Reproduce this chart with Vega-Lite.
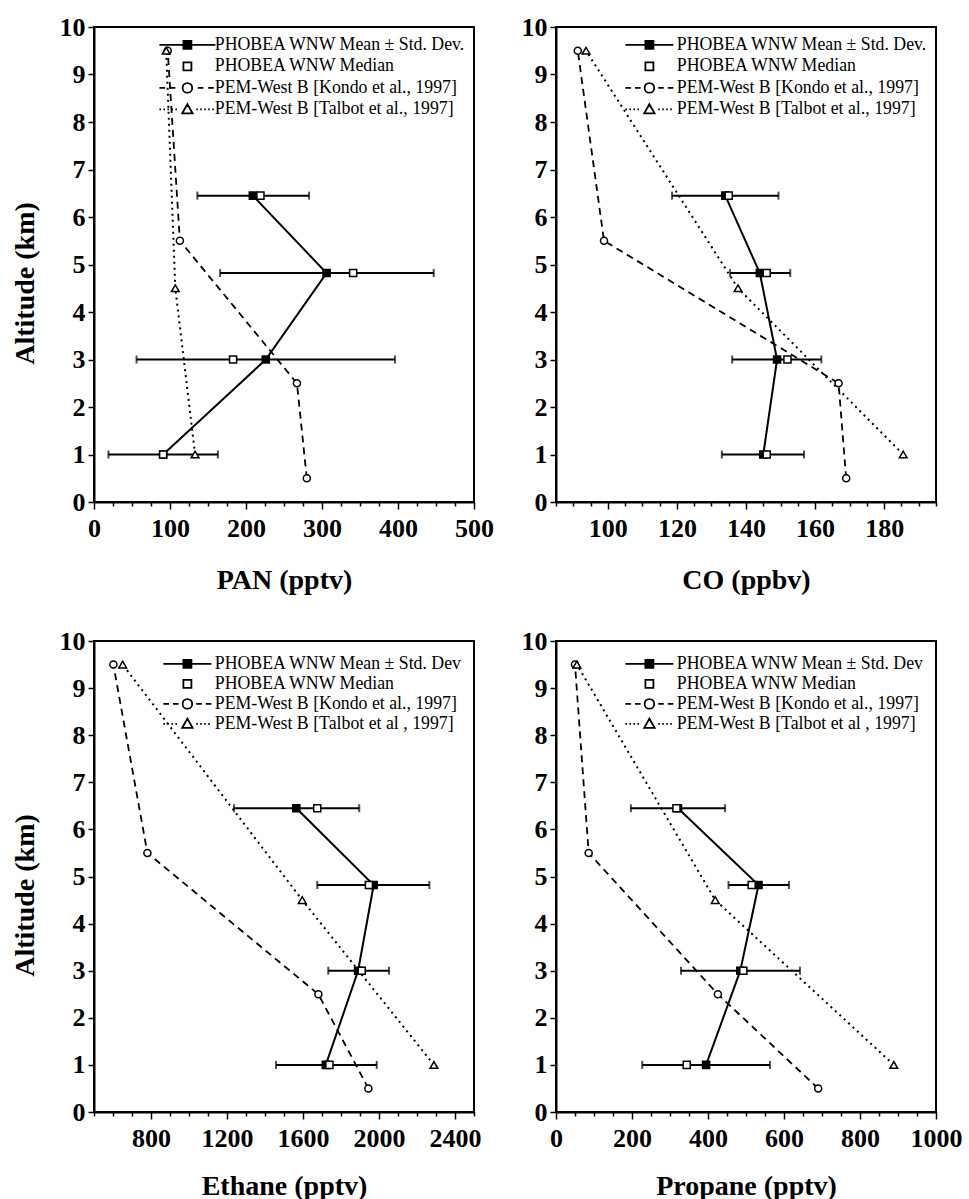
{
  "$schema": "https://vega.github.io/schema/vega-lite/v6.json",
  "background": "white",
  "padding": {"left": 10, "top": 13, "right": 5, "bottom": 5},
  "autosize": {"type": "pad"},
  "bounds": "flush",
  "columns": 2,
  "spacing": {"row": 139, "column": 82},
  "data": {
    "values": [
      {"gas": "PAN", "series": "mean", "alt": 6.45, "value": 209, "lo": 136, "hi": 283},
      {"gas": "PAN", "series": "mean", "alt": 4.82, "value": 306, "lo": 166, "hi": 447},
      {"gas": "PAN", "series": "mean", "alt": 3.0, "value": 226, "lo": 56, "hi": 396},
      {"gas": "PAN", "series": "mean", "alt": 1.0, "value": 91, "lo": 19, "hi": 163},
      {"gas": "PAN", "series": "median", "alt": 6.45, "value": 219},
      {"gas": "PAN", "series": "median", "alt": 4.82, "value": 341},
      {"gas": "PAN", "series": "median", "alt": 3.0, "value": 183},
      {"gas": "PAN", "series": "median", "alt": 1.0, "value": 91},
      {"gas": "PAN", "series": "kondo", "alt": 9.5, "value": 97},
      {"gas": "PAN", "series": "kondo", "alt": 5.5, "value": 113},
      {"gas": "PAN", "series": "kondo", "alt": 2.5, "value": 267},
      {"gas": "PAN", "series": "kondo", "alt": 0.5, "value": 280},
      {"gas": "PAN", "series": "talbot", "alt": 9.5, "value": 95},
      {"gas": "PAN", "series": "talbot", "alt": 4.5, "value": 107},
      {"gas": "PAN", "series": "talbot", "alt": 1.0, "value": 133},

      {"gas": "CO", "series": "mean", "alt": 6.45, "value": 134, "lo": 118.6, "hi": 149.4},
      {"gas": "CO", "series": "mean", "alt": 4.82, "value": 144, "lo": 135.4, "hi": 152.8},
      {"gas": "CO", "series": "mean", "alt": 3.0, "value": 149, "lo": 136, "hi": 161.8},
      {"gas": "CO", "series": "mean", "alt": 1.0, "value": 145, "lo": 133, "hi": 156.8},
      {"gas": "CO", "series": "median", "alt": 6.45, "value": 135},
      {"gas": "CO", "series": "median", "alt": 4.82, "value": 146},
      {"gas": "CO", "series": "median", "alt": 3.0, "value": 152},
      {"gas": "CO", "series": "median", "alt": 1.0, "value": 146},
      {"gas": "CO", "series": "kondo", "alt": 9.5, "value": 91.3},
      {"gas": "CO", "series": "kondo", "alt": 5.5, "value": 98.9},
      {"gas": "CO", "series": "kondo", "alt": 2.5, "value": 166.8},
      {"gas": "CO", "series": "kondo", "alt": 0.5, "value": 169},
      {"gas": "CO", "series": "talbot", "alt": 9.5, "value": 93.7},
      {"gas": "CO", "series": "talbot", "alt": 4.5, "value": 137.7},
      {"gas": "CO", "series": "talbot", "alt": 1.0, "value": 185.5},

      {"gas": "Ethane", "series": "mean", "alt": 6.45, "value": 1565, "lo": 1237, "hi": 1896},
      {"gas": "Ethane", "series": "mean", "alt": 4.82, "value": 1972, "lo": 1675, "hi": 2265},
      {"gas": "Ethane", "series": "mean", "alt": 3.0, "value": 1890, "lo": 1733, "hi": 2053},
      {"gas": "Ethane", "series": "mean", "alt": 1.0, "value": 1720, "lo": 1458, "hi": 1988},
      {"gas": "Ethane", "series": "median", "alt": 6.45, "value": 1675},
      {"gas": "Ethane", "series": "median", "alt": 4.82, "value": 1947},
      {"gas": "Ethane", "series": "median", "alt": 3.0, "value": 1909},
      {"gas": "Ethane", "series": "median", "alt": 1.0, "value": 1739},
      {"gas": "Ethane", "series": "kondo", "alt": 9.5, "value": 602},
      {"gas": "Ethane", "series": "kondo", "alt": 5.5, "value": 781},
      {"gas": "Ethane", "series": "kondo", "alt": 2.5, "value": 1681},
      {"gas": "Ethane", "series": "kondo", "alt": 0.5, "value": 1944},
      {"gas": "Ethane", "series": "talbot", "alt": 9.5, "value": 651},
      {"gas": "Ethane", "series": "talbot", "alt": 4.5, "value": 1596},
      {"gas": "Ethane", "series": "talbot", "alt": 1.0, "value": 2289},

      {"gas": "Propane", "series": "mean", "alt": 6.45, "value": 321, "lo": 197, "hi": 445},
      {"gas": "Propane", "series": "mean", "alt": 4.82, "value": 533, "lo": 454, "hi": 613},
      {"gas": "Propane", "series": "mean", "alt": 3.0, "value": 485, "lo": 329, "hi": 642},
      {"gas": "Propane", "series": "mean", "alt": 1.0, "value": 395, "lo": 227, "hi": 563},
      {"gas": "Propane", "series": "median", "alt": 6.45, "value": 317},
      {"gas": "Propane", "series": "median", "alt": 4.82, "value": 515},
      {"gas": "Propane", "series": "median", "alt": 3.0, "value": 493},
      {"gas": "Propane", "series": "median", "alt": 1.0, "value": 344},
      {"gas": "Propane", "series": "kondo", "alt": 9.5, "value": 50},
      {"gas": "Propane", "series": "kondo", "alt": 5.5, "value": 86},
      {"gas": "Propane", "series": "kondo", "alt": 2.5, "value": 426},
      {"gas": "Propane", "series": "kondo", "alt": 0.5, "value": 690},
      {"gas": "Propane", "series": "talbot", "alt": 9.5, "value": 55},
      {"gas": "Propane", "series": "talbot", "alt": 4.5, "value": 419},
      {"gas": "Propane", "series": "talbot", "alt": 1.0, "value": 889}
    ]
  },
  "concat": [
    {
      "width": 380, "height": 475,
      "transform": [{"filter": "datum.gas === 'PAN'"}],
      "resolve": {"axis": {"x": "independent"}},
      "layer": [
        {"transform": [{"filter": "datum.series === 'mean'"}],
         "mark": {"type": "rule", "color": "black", "strokeWidth": 2},
         "encoding": {
           "x": {"field": "lo", "type": "quantitative", "scale": {"domain": [0, 500], "nice": false, "zero": false},
                 "axis": {"title": "PAN (pptv)", "titleY": 64, "orient": "bottom", "format": "d", "tickSize": 7,
                          "values": [0,100,200,300,400,500]}},
           "x2": {"field": "hi"},
           "y": {"field": "alt", "type": "quantitative", "scale": {"domain": [0, 10], "nice": false, "zero": false},
                 "axis": {"title": "Altitude (km)", "titleX": -55, "titleY": 256,
                          "values": [0,0.5,1,1.5,2,2.5,3,3.5,4,4.5,5,5.5,6,6.5,7,7.5,8,8.5,9,9.5,10],
                          "labelExpr": "abs(datum.value % 1) < 0.01 ? format(datum.value, 'd') : ''",
                          "tickSize": {"condition": {"test": "abs(datum.value % 1) < 0.01", "value": 6}, "value": 3}}}
         }},
        {"transform": [{"filter": "datum.series === 'mean'"}],
         "mark": {"type": "tick", "orient": "vertical", "color": "black", "size": 8, "thickness": 2},
         "encoding": {"x": {"field": "lo", "type": "quantitative", "axis": null}, "y": {"field": "alt", "type": "quantitative"}}},
        {"transform": [{"filter": "datum.series === 'mean'"}],
         "mark": {"type": "tick", "orient": "vertical", "color": "black", "size": 8, "thickness": 2},
         "encoding": {"x": {"field": "hi", "type": "quantitative", "axis": null}, "y": {"field": "alt", "type": "quantitative"}}},
        {"transform": [{"filter": "datum.series === 'mean'"}],
         "mark": {"type": "line", "color": "black", "strokeWidth": 2},
         "encoding": {"x": {"field": "value", "type": "quantitative", "axis": null}, "y": {"field": "alt", "type": "quantitative"}, "order": {"field": "alt", "type": "quantitative"}}},
        {"transform": [{"filter": "datum.series === 'kondo'"}],
         "mark": {"type": "line", "color": "black", "strokeWidth": 1.8, "strokeDash": [7, 5]},
         "encoding": {"x": {"field": "value", "type": "quantitative", "axis": null}, "y": {"field": "alt", "type": "quantitative"}, "order": {"field": "alt", "type": "quantitative"}}},
        {"transform": [{"filter": "datum.series === 'talbot'"}],
         "mark": {"type": "line", "color": "black", "strokeWidth": 2, "strokeDash": [2, 4]},
         "encoding": {"x": {"field": "value", "type": "quantitative", "axis": null}, "y": {"field": "alt", "type": "quantitative"}, "order": {"field": "alt", "type": "quantitative"}}},
        {"transform": [{"filter": "datum.series === 'mean'"}],
         "mark": {"type": "point", "shape": "square", "size": 50, "filled": true, "fill": "black", "stroke": "black", "strokeWidth": 1.5, "opacity": 1},
         "encoding": {"x": {"field": "value", "type": "quantitative", "axis": null}, "y": {"field": "alt", "type": "quantitative"}}},
        {"transform": [{"filter": "datum.series === 'median'"}],
         "mark": {"type": "point", "shape": "square", "size": 50, "filled": true, "fill": "white", "stroke": "black", "strokeWidth": 1.5, "opacity": 1},
         "encoding": {"x": {"field": "value", "type": "quantitative", "axis": null}, "y": {"field": "alt", "type": "quantitative"}}},
        {"transform": [{"filter": "datum.series === 'kondo'"}],
         "mark": {"type": "point", "shape": "circle", "size": 50, "filled": true, "fill": "white", "stroke": "black", "strokeWidth": 1.5, "opacity": 1},
         "encoding": {"x": {"field": "value", "type": "quantitative", "axis": null}, "y": {"field": "alt", "type": "quantitative"}}},
        {"transform": [{"filter": "datum.series === 'talbot'"}],
         "mark": {"type": "point", "shape": "triangle-up", "size": 60, "filled": true, "fill": "white", "stroke": "black", "strokeWidth": 1.5, "opacity": 1},
         "encoding": {"x": {"field": "value", "type": "quantitative", "axis": null}, "y": {"field": "alt", "type": "quantitative"}}},
        {"transform": [{"filter": "false"}],
         "mark": {"type": "point", "filled": true, "strokeWidth": 1.8, "opacity": 1},
         "encoding": {
           "x": {"field": "value", "type": "quantitative",
                 "axis": {"orient": "bottom", "title": null, "labels": false, "domain": false, "tickSize": 4,
                          "values": [25,50,75,125,150,175,225,250,275,325,350,375,425,450,475]}},
           "shape": {"field": "series", "type": "nominal",
                     "scale": {"domain": ["PHOBEA WNW Mean ± Std. Dev.", "PHOBEA WNW Median", "PEM-West B [Kondo et al., 1997]", "PEM-West B [Talbot et al., 1997]"],
                               "range": ["M-7,0H-1M1,0H7M-1,-1H1V1H-1Z", "M-1,-1H1V1H-1Z", "M-7,0H-5.6M-4.4,0H-3M-1.2,0A1.2,1.2 0 1,0 1.2,0A1.2,1.2 0 1,0 -1.2,0ZM2.6,0H4M5.2,0H6.6", "M-7,0H-6.6M-6,0H-5.6M-5,0H-4.6M-4,0H-3.6M-3,0H-2.6M0,-1.3L1.3,1L-1.3,1ZM2.2,0H2.6M3.2,0H3.6M4.2,0H4.6M5.2,0H5.6M6.2,0H6.6"]},
                     "legend": {"title": null, "orient": "none", "legendX": 84.5, "legendY": 9, "padding": 0, "symbolSize": 64, "symbolStrokeWidth": 1.8, "symbolStrokeColor": "black", "labelFont": "Liberation Serif", "labelFontSize": 17.8, "labelColor": "black", "labelLimit": 500, "labelOffset": 18.5, "rowPadding": 2.5}},
           "fill": {"field": "series", "type": "nominal",
                    "scale": {"domain": ["PHOBEA WNW Mean ± Std. Dev.", "PHOBEA WNW Median", "PEM-West B [Kondo et al., 1997]", "PEM-West B [Talbot et al., 1997]"],
                              "range": ["black", "white", "white", "white"]},
                    "legend": {"title": null, "orient": "none", "legendX": 84.5, "legendY": 9, "padding": 0, "symbolSize": 64, "symbolStrokeWidth": 1.8, "symbolStrokeColor": "black", "labelFont": "Liberation Serif", "labelFontSize": 17.8, "labelColor": "black", "labelLimit": 500, "labelOffset": 18.5, "rowPadding": 2.5}},
           "stroke": {"field": "series", "type": "nominal",
                    "scale": {"domain": ["PHOBEA WNW Mean ± Std. Dev.", "PHOBEA WNW Median", "PEM-West B [Kondo et al., 1997]", "PEM-West B [Talbot et al., 1997]"],
                              "range": ["black", "black", "black", "black"]},
                    "legend": {"title": null, "orient": "none", "legendX": 84.5, "legendY": 9, "padding": 0, "symbolSize": 64, "symbolStrokeWidth": 1.8, "symbolStrokeColor": "black", "labelFont": "Liberation Serif", "labelFontSize": 17.8, "labelColor": "black", "labelLimit": 500, "labelOffset": 18.5, "rowPadding": 2.5}}
         }}
      ]
    },
    {
      "width": 380, "height": 475,
      "transform": [{"filter": "datum.gas === 'CO'"}],
      "resolve": {"axis": {"x": "independent"}},
      "layer": [
        {"transform": [{"filter": "datum.series === 'mean'"}],
         "mark": {"type": "rule", "color": "black", "strokeWidth": 2},
         "encoding": {
           "x": {"field": "lo", "type": "quantitative", "scale": {"domain": [85, 195], "nice": false, "zero": false},
                 "axis": {"title": "CO (ppbv)", "titleY": 64, "orient": "bottom", "format": "d", "tickSize": 7,
                          "values": [100,120,140,160,180]}},
           "x2": {"field": "hi"},
           "y": {"field": "alt", "type": "quantitative", "scale": {"domain": [0, 10], "nice": false, "zero": false},
                 "axis": {"title": null,
                          "values": [0,0.5,1,1.5,2,2.5,3,3.5,4,4.5,5,5.5,6,6.5,7,7.5,8,8.5,9,9.5,10],
                          "labelExpr": "abs(datum.value % 1) < 0.01 ? format(datum.value, 'd') : ''",
                          "tickSize": {"condition": {"test": "abs(datum.value % 1) < 0.01", "value": 6}, "value": 3}}}
         }},
        {"transform": [{"filter": "datum.series === 'mean'"}],
         "mark": {"type": "tick", "orient": "vertical", "color": "black", "size": 8, "thickness": 2},
         "encoding": {"x": {"field": "lo", "type": "quantitative", "axis": null}, "y": {"field": "alt", "type": "quantitative"}}},
        {"transform": [{"filter": "datum.series === 'mean'"}],
         "mark": {"type": "tick", "orient": "vertical", "color": "black", "size": 8, "thickness": 2},
         "encoding": {"x": {"field": "hi", "type": "quantitative", "axis": null}, "y": {"field": "alt", "type": "quantitative"}}},
        {"transform": [{"filter": "datum.series === 'mean'"}],
         "mark": {"type": "line", "color": "black", "strokeWidth": 2},
         "encoding": {"x": {"field": "value", "type": "quantitative", "axis": null}, "y": {"field": "alt", "type": "quantitative"}, "order": {"field": "alt", "type": "quantitative"}}},
        {"transform": [{"filter": "datum.series === 'kondo'"}],
         "mark": {"type": "line", "color": "black", "strokeWidth": 1.8, "strokeDash": [7, 5]},
         "encoding": {"x": {"field": "value", "type": "quantitative", "axis": null}, "y": {"field": "alt", "type": "quantitative"}, "order": {"field": "alt", "type": "quantitative"}}},
        {"transform": [{"filter": "datum.series === 'talbot'"}],
         "mark": {"type": "line", "color": "black", "strokeWidth": 2, "strokeDash": [2, 4]},
         "encoding": {"x": {"field": "value", "type": "quantitative", "axis": null}, "y": {"field": "alt", "type": "quantitative"}, "order": {"field": "alt", "type": "quantitative"}}},
        {"transform": [{"filter": "datum.series === 'mean'"}],
         "mark": {"type": "point", "shape": "square", "size": 50, "filled": true, "fill": "black", "stroke": "black", "strokeWidth": 1.5, "opacity": 1},
         "encoding": {"x": {"field": "value", "type": "quantitative", "axis": null}, "y": {"field": "alt", "type": "quantitative"}}},
        {"transform": [{"filter": "datum.series === 'median'"}],
         "mark": {"type": "point", "shape": "square", "size": 50, "filled": true, "fill": "white", "stroke": "black", "strokeWidth": 1.5, "opacity": 1},
         "encoding": {"x": {"field": "value", "type": "quantitative", "axis": null}, "y": {"field": "alt", "type": "quantitative"}}},
        {"transform": [{"filter": "datum.series === 'kondo'"}],
         "mark": {"type": "point", "shape": "circle", "size": 50, "filled": true, "fill": "white", "stroke": "black", "strokeWidth": 1.5, "opacity": 1},
         "encoding": {"x": {"field": "value", "type": "quantitative", "axis": null}, "y": {"field": "alt", "type": "quantitative"}}},
        {"transform": [{"filter": "datum.series === 'talbot'"}],
         "mark": {"type": "point", "shape": "triangle-up", "size": 60, "filled": true, "fill": "white", "stroke": "black", "strokeWidth": 1.5, "opacity": 1},
         "encoding": {"x": {"field": "value", "type": "quantitative", "axis": null}, "y": {"field": "alt", "type": "quantitative"}}},
        {"transform": [{"filter": "false"}],
         "mark": {"type": "point", "filled": true, "strokeWidth": 1.8, "opacity": 1},
         "encoding": {
           "x": {"field": "value", "type": "quantitative",
                 "axis": {"orient": "bottom", "title": null, "labels": false, "domain": false, "tickSize": 4,
                          "values": [85,90,95,105,110,115,125,130,135,145,150,155,165,170,175,185,190,195]}},
           "shape": {"field": "series", "type": "nominal",
                     "scale": {"domain": ["PHOBEA WNW Mean ± Std. Dev.", "PHOBEA WNW Median", "PEM-West B [Kondo et al., 1997]", "PEM-West B [Talbot et al., 1997]"],
                               "range": ["M-6,0H-1M1,0H6M-1,-1H1V1H-1Z", "M-1,-1H1V1H-1Z", "M-6,0H-4.6M-3.6,0H-2.2M-1.2,0A1.2,1.2 0 1,0 1.2,0A1.2,1.2 0 1,0 -1.2,0ZM2.2,0H3.6M4.6,0H6", "M-6,0H-5.6M-5,0H-4.6M-4,0H-3.6M-3,0H-2.6M0,-1.3L1.3,1L-1.3,1ZM2.2,0H2.6M3.2,0H3.6M4.2,0H4.6M5.2,0H5.6"]},
                     "legend": {"title": null, "orient": "none", "legendX": 84.5, "legendY": 9, "padding": 0, "symbolSize": 64, "symbolStrokeWidth": 1.8, "symbolStrokeColor": "black", "labelFont": "Liberation Serif", "labelFontSize": 17.8, "labelColor": "black", "labelLimit": 500, "labelOffset": 18.5, "rowPadding": 2.5}},
           "fill": {"field": "series", "type": "nominal",
                    "scale": {"domain": ["PHOBEA WNW Mean ± Std. Dev.", "PHOBEA WNW Median", "PEM-West B [Kondo et al., 1997]", "PEM-West B [Talbot et al., 1997]"],
                              "range": ["black", "white", "white", "white"]},
                    "legend": {"title": null, "orient": "none", "legendX": 84.5, "legendY": 9, "padding": 0, "symbolSize": 64, "symbolStrokeWidth": 1.8, "symbolStrokeColor": "black", "labelFont": "Liberation Serif", "labelFontSize": 17.8, "labelColor": "black", "labelLimit": 500, "labelOffset": 18.5, "rowPadding": 2.5}},
           "stroke": {"field": "series", "type": "nominal",
                    "scale": {"domain": ["PHOBEA WNW Mean ± Std. Dev.", "PHOBEA WNW Median", "PEM-West B [Kondo et al., 1997]", "PEM-West B [Talbot et al., 1997]"],
                              "range": ["black", "black", "black", "black"]},
                    "legend": {"title": null, "orient": "none", "legendX": 84.5, "legendY": 9, "padding": 0, "symbolSize": 64, "symbolStrokeWidth": 1.8, "symbolStrokeColor": "black", "labelFont": "Liberation Serif", "labelFontSize": 17.8, "labelColor": "black", "labelLimit": 500, "labelOffset": 18.5, "rowPadding": 2.5}}
         }}
      ]
    },
    {
      "width": 380, "height": 471,
      "transform": [{"filter": "datum.gas === 'Ethane'"}],
      "resolve": {"axis": {"x": "independent"}},
      "layer": [
        {"transform": [{"filter": "datum.series === 'mean'"}],
         "mark": {"type": "rule", "color": "black", "strokeWidth": 2},
         "encoding": {
           "x": {"field": "lo", "type": "quantitative", "scale": {"domain": [500, 2500], "nice": false, "zero": false},
                 "axis": {"title": "Ethane (pptv)", "titleY": 60, "orient": "bottom", "format": "d", "tickSize": 7,
                          "values": [800,1200,1600,2000,2400]}},
           "x2": {"field": "hi"},
           "y": {"field": "alt", "type": "quantitative", "scale": {"domain": [0, 10], "nice": false, "zero": false},
                 "axis": {"title": "Altitude (km)", "titleX": -55, "titleY": 254,
                          "values": [0,0.5,1,1.5,2,2.5,3,3.5,4,4.5,5,5.5,6,6.5,7,7.5,8,8.5,9,9.5,10],
                          "labelExpr": "abs(datum.value % 1) < 0.01 ? format(datum.value, 'd') : ''",
                          "tickSize": {"condition": {"test": "abs(datum.value % 1) < 0.01", "value": 6}, "value": 3}}}
         }},
        {"transform": [{"filter": "datum.series === 'mean'"}],
         "mark": {"type": "tick", "orient": "vertical", "color": "black", "size": 8, "thickness": 2},
         "encoding": {"x": {"field": "lo", "type": "quantitative", "axis": null}, "y": {"field": "alt", "type": "quantitative"}}},
        {"transform": [{"filter": "datum.series === 'mean'"}],
         "mark": {"type": "tick", "orient": "vertical", "color": "black", "size": 8, "thickness": 2},
         "encoding": {"x": {"field": "hi", "type": "quantitative", "axis": null}, "y": {"field": "alt", "type": "quantitative"}}},
        {"transform": [{"filter": "datum.series === 'mean'"}],
         "mark": {"type": "line", "color": "black", "strokeWidth": 2},
         "encoding": {"x": {"field": "value", "type": "quantitative", "axis": null}, "y": {"field": "alt", "type": "quantitative"}, "order": {"field": "alt", "type": "quantitative"}}},
        {"transform": [{"filter": "datum.series === 'kondo'"}],
         "mark": {"type": "line", "color": "black", "strokeWidth": 1.8, "strokeDash": [7, 5]},
         "encoding": {"x": {"field": "value", "type": "quantitative", "axis": null}, "y": {"field": "alt", "type": "quantitative"}, "order": {"field": "alt", "type": "quantitative"}}},
        {"transform": [{"filter": "datum.series === 'talbot'"}],
         "mark": {"type": "line", "color": "black", "strokeWidth": 2, "strokeDash": [2, 4]},
         "encoding": {"x": {"field": "value", "type": "quantitative", "axis": null}, "y": {"field": "alt", "type": "quantitative"}, "order": {"field": "alt", "type": "quantitative"}}},
        {"transform": [{"filter": "datum.series === 'mean'"}],
         "mark": {"type": "point", "shape": "square", "size": 50, "filled": true, "fill": "black", "stroke": "black", "strokeWidth": 1.5, "opacity": 1},
         "encoding": {"x": {"field": "value", "type": "quantitative", "axis": null}, "y": {"field": "alt", "type": "quantitative"}}},
        {"transform": [{"filter": "datum.series === 'median'"}],
         "mark": {"type": "point", "shape": "square", "size": 50, "filled": true, "fill": "white", "stroke": "black", "strokeWidth": 1.5, "opacity": 1},
         "encoding": {"x": {"field": "value", "type": "quantitative", "axis": null}, "y": {"field": "alt", "type": "quantitative"}}},
        {"transform": [{"filter": "datum.series === 'kondo'"}],
         "mark": {"type": "point", "shape": "circle", "size": 50, "filled": true, "fill": "white", "stroke": "black", "strokeWidth": 1.5, "opacity": 1},
         "encoding": {"x": {"field": "value", "type": "quantitative", "axis": null}, "y": {"field": "alt", "type": "quantitative"}}},
        {"transform": [{"filter": "datum.series === 'talbot'"}],
         "mark": {"type": "point", "shape": "triangle-up", "size": 60, "filled": true, "fill": "white", "stroke": "black", "strokeWidth": 1.5, "opacity": 1},
         "encoding": {"x": {"field": "value", "type": "quantitative", "axis": null}, "y": {"field": "alt", "type": "quantitative"}}},
        {"transform": [{"filter": "false"}],
         "mark": {"type": "point", "filled": true, "strokeWidth": 1.8, "opacity": 1},
         "encoding": {
           "x": {"field": "value", "type": "quantitative",
                 "axis": {"orient": "bottom", "title": null, "labels": false, "domain": false, "tickSize": 4,
                          "values": [500,600,700,900,1000,1100,1300,1400,1500,1700,1800,1900,2100,2200,2300,2500]}},
           "shape": {"field": "series", "type": "nominal",
                     "scale": {"domain": ["PHOBEA WNW Mean ± Std. Dev", "PHOBEA WNW Median", "PEM-West B [Kondo et al., 1997]", "PEM-West B [Talbot et al , 1997]"],
                               "range": ["M-6,0H-1M1,0H6M-1,-1H1V1H-1Z", "M-1,-1H1V1H-1Z", "M-6,0H-4.6M-3.6,0H-2.2M-1.2,0A1.2,1.2 0 1,0 1.2,0A1.2,1.2 0 1,0 -1.2,0ZM2.2,0H3.6M4.6,0H6", "M-6,0H-5.6M-5,0H-4.6M-4,0H-3.6M-3,0H-2.6M0,-1.3L1.3,1L-1.3,1ZM2.2,0H2.6M3.2,0H3.6M4.2,0H4.6M5.2,0H5.6"]},
                     "legend": {"title": null, "orient": "none", "legendX": 84.5, "legendY": 14, "padding": 0, "symbolSize": 64, "symbolStrokeWidth": 1.8, "symbolStrokeColor": "black", "labelFont": "Liberation Serif", "labelFontSize": 17.8, "labelColor": "black", "labelLimit": 500, "labelOffset": 18.5, "rowPadding": 1}},
           "fill": {"field": "series", "type": "nominal",
                    "scale": {"domain": ["PHOBEA WNW Mean ± Std. Dev", "PHOBEA WNW Median", "PEM-West B [Kondo et al., 1997]", "PEM-West B [Talbot et al , 1997]"],
                              "range": ["black", "white", "white", "white"]},
                    "legend": {"title": null, "orient": "none", "legendX": 84.5, "legendY": 14, "padding": 0, "symbolSize": 64, "symbolStrokeWidth": 1.8, "symbolStrokeColor": "black", "labelFont": "Liberation Serif", "labelFontSize": 17.8, "labelColor": "black", "labelLimit": 500, "labelOffset": 18.5, "rowPadding": 1}},
           "stroke": {"field": "series", "type": "nominal",
                    "scale": {"domain": ["PHOBEA WNW Mean ± Std. Dev", "PHOBEA WNW Median", "PEM-West B [Kondo et al., 1997]", "PEM-West B [Talbot et al , 1997]"],
                              "range": ["black", "black", "black", "black"]},
                    "legend": {"title": null, "orient": "none", "legendX": 84.5, "legendY": 14, "padding": 0, "symbolSize": 64, "symbolStrokeWidth": 1.8, "symbolStrokeColor": "black", "labelFont": "Liberation Serif", "labelFontSize": 17.8, "labelColor": "black", "labelLimit": 500, "labelOffset": 18.5, "rowPadding": 1}}
         }}
      ]
    },
    {
      "width": 380, "height": 471,
      "transform": [{"filter": "datum.gas === 'Propane'"}],
      "resolve": {"axis": {"x": "independent"}},
      "layer": [
        {"transform": [{"filter": "datum.series === 'mean'"}],
         "mark": {"type": "rule", "color": "black", "strokeWidth": 2},
         "encoding": {
           "x": {"field": "lo", "type": "quantitative", "scale": {"domain": [0, 1000], "nice": false, "zero": false},
                 "axis": {"title": "Propane (pptv)", "titleY": 60, "orient": "bottom", "format": "d", "tickSize": 7,
                          "values": [0,200,400,600,800,1000]}},
           "x2": {"field": "hi"},
           "y": {"field": "alt", "type": "quantitative", "scale": {"domain": [0, 10], "nice": false, "zero": false},
                 "axis": {"title": null,
                          "values": [0,0.5,1,1.5,2,2.5,3,3.5,4,4.5,5,5.5,6,6.5,7,7.5,8,8.5,9,9.5,10],
                          "labelExpr": "abs(datum.value % 1) < 0.01 ? format(datum.value, 'd') : ''",
                          "tickSize": {"condition": {"test": "abs(datum.value % 1) < 0.01", "value": 6}, "value": 3}}}
         }},
        {"transform": [{"filter": "datum.series === 'mean'"}],
         "mark": {"type": "tick", "orient": "vertical", "color": "black", "size": 8, "thickness": 2},
         "encoding": {"x": {"field": "lo", "type": "quantitative", "axis": null}, "y": {"field": "alt", "type": "quantitative"}}},
        {"transform": [{"filter": "datum.series === 'mean'"}],
         "mark": {"type": "tick", "orient": "vertical", "color": "black", "size": 8, "thickness": 2},
         "encoding": {"x": {"field": "hi", "type": "quantitative", "axis": null}, "y": {"field": "alt", "type": "quantitative"}}},
        {"transform": [{"filter": "datum.series === 'mean'"}],
         "mark": {"type": "line", "color": "black", "strokeWidth": 2},
         "encoding": {"x": {"field": "value", "type": "quantitative", "axis": null}, "y": {"field": "alt", "type": "quantitative"}, "order": {"field": "alt", "type": "quantitative"}}},
        {"transform": [{"filter": "datum.series === 'kondo'"}],
         "mark": {"type": "line", "color": "black", "strokeWidth": 1.8, "strokeDash": [7, 5]},
         "encoding": {"x": {"field": "value", "type": "quantitative", "axis": null}, "y": {"field": "alt", "type": "quantitative"}, "order": {"field": "alt", "type": "quantitative"}}},
        {"transform": [{"filter": "datum.series === 'talbot'"}],
         "mark": {"type": "line", "color": "black", "strokeWidth": 2, "strokeDash": [2, 4]},
         "encoding": {"x": {"field": "value", "type": "quantitative", "axis": null}, "y": {"field": "alt", "type": "quantitative"}, "order": {"field": "alt", "type": "quantitative"}}},
        {"transform": [{"filter": "datum.series === 'mean'"}],
         "mark": {"type": "point", "shape": "square", "size": 50, "filled": true, "fill": "black", "stroke": "black", "strokeWidth": 1.5, "opacity": 1},
         "encoding": {"x": {"field": "value", "type": "quantitative", "axis": null}, "y": {"field": "alt", "type": "quantitative"}}},
        {"transform": [{"filter": "datum.series === 'median'"}],
         "mark": {"type": "point", "shape": "square", "size": 50, "filled": true, "fill": "white", "stroke": "black", "strokeWidth": 1.5, "opacity": 1},
         "encoding": {"x": {"field": "value", "type": "quantitative", "axis": null}, "y": {"field": "alt", "type": "quantitative"}}},
        {"transform": [{"filter": "datum.series === 'kondo'"}],
         "mark": {"type": "point", "shape": "circle", "size": 50, "filled": true, "fill": "white", "stroke": "black", "strokeWidth": 1.5, "opacity": 1},
         "encoding": {"x": {"field": "value", "type": "quantitative", "axis": null}, "y": {"field": "alt", "type": "quantitative"}}},
        {"transform": [{"filter": "datum.series === 'talbot'"}],
         "mark": {"type": "point", "shape": "triangle-up", "size": 60, "filled": true, "fill": "white", "stroke": "black", "strokeWidth": 1.5, "opacity": 1},
         "encoding": {"x": {"field": "value", "type": "quantitative", "axis": null}, "y": {"field": "alt", "type": "quantitative"}}},
        {"transform": [{"filter": "false"}],
         "mark": {"type": "point", "filled": true, "strokeWidth": 1.8, "opacity": 1},
         "encoding": {
           "x": {"field": "value", "type": "quantitative",
                 "axis": {"orient": "bottom", "title": null, "labels": false, "domain": false, "tickSize": 4,
                          "values": [50,100,150,250,300,350,450,500,550,650,700,750,850,900,950]}},
           "shape": {"field": "series", "type": "nominal",
                     "scale": {"domain": ["PHOBEA WNW Mean ± Std. Dev", "PHOBEA WNW Median", "PEM-West B [Kondo et al., 1997]", "PEM-West B [Talbot et al , 1997]"],
                               "range": ["M-6,0H-1M1,0H6M-1,-1H1V1H-1Z", "M-1,-1H1V1H-1Z", "M-6,0H-4.6M-3.6,0H-2.2M-1.2,0A1.2,1.2 0 1,0 1.2,0A1.2,1.2 0 1,0 -1.2,0ZM2.2,0H3.6M4.6,0H6", "M-6,0H-5.6M-5,0H-4.6M-4,0H-3.6M-3,0H-2.6M0,-1.3L1.3,1L-1.3,1ZM2.2,0H2.6M3.2,0H3.6M4.2,0H4.6M5.2,0H5.6"]},
                     "legend": {"title": null, "orient": "none", "legendX": 84.5, "legendY": 14, "padding": 0, "symbolSize": 64, "symbolStrokeWidth": 1.8, "symbolStrokeColor": "black", "labelFont": "Liberation Serif", "labelFontSize": 17.8, "labelColor": "black", "labelLimit": 500, "labelOffset": 18.5, "rowPadding": 1}},
           "fill": {"field": "series", "type": "nominal",
                    "scale": {"domain": ["PHOBEA WNW Mean ± Std. Dev", "PHOBEA WNW Median", "PEM-West B [Kondo et al., 1997]", "PEM-West B [Talbot et al , 1997]"],
                              "range": ["black", "white", "white", "white"]},
                    "legend": {"title": null, "orient": "none", "legendX": 84.5, "legendY": 14, "padding": 0, "symbolSize": 64, "symbolStrokeWidth": 1.8, "symbolStrokeColor": "black", "labelFont": "Liberation Serif", "labelFontSize": 17.8, "labelColor": "black", "labelLimit": 500, "labelOffset": 18.5, "rowPadding": 1}},
           "stroke": {"field": "series", "type": "nominal",
                    "scale": {"domain": ["PHOBEA WNW Mean ± Std. Dev", "PHOBEA WNW Median", "PEM-West B [Kondo et al., 1997]", "PEM-West B [Talbot et al , 1997]"],
                              "range": ["black", "black", "black", "black"]},
                    "legend": {"title": null, "orient": "none", "legendX": 84.5, "legendY": 14, "padding": 0, "symbolSize": 64, "symbolStrokeWidth": 1.8, "symbolStrokeColor": "black", "labelFont": "Liberation Serif", "labelFontSize": 17.8, "labelColor": "black", "labelLimit": 500, "labelOffset": 18.5, "rowPadding": 1}}
         }}
      ]
    }
  ],
  "resolve": {
    "scale": {"x": "independent", "y": "independent", "shape": "independent", "fill": "independent", "stroke": "independent"},
    "legend": {"shape": "independent", "fill": "independent", "stroke": "independent"}
  },
  "config": {
    "font": "Liberation Serif",
    "view": {"stroke": "black", "strokeWidth": 2},
    "axis": {
      "grid": false,
      "domainColor": "black", "domainWidth": 2,
      "tickColor": "black", "tickWidth": 1.5,
      "labelFont": "Liberation Serif", "labelFontWeight": "bold", "labelFontSize": 26, "labelColor": "black",
      "labelOverlap": false, "labelFlush": false, "labelBound": false,
      "titleFont": "Liberation Serif", "titleFontWeight": "bold", "titleFontSize": 28, "titleColor": "black"
    },
    "axisX": {"labelPadding": 6},
    "axisY": {"labelPadding": 3}
  }
}
